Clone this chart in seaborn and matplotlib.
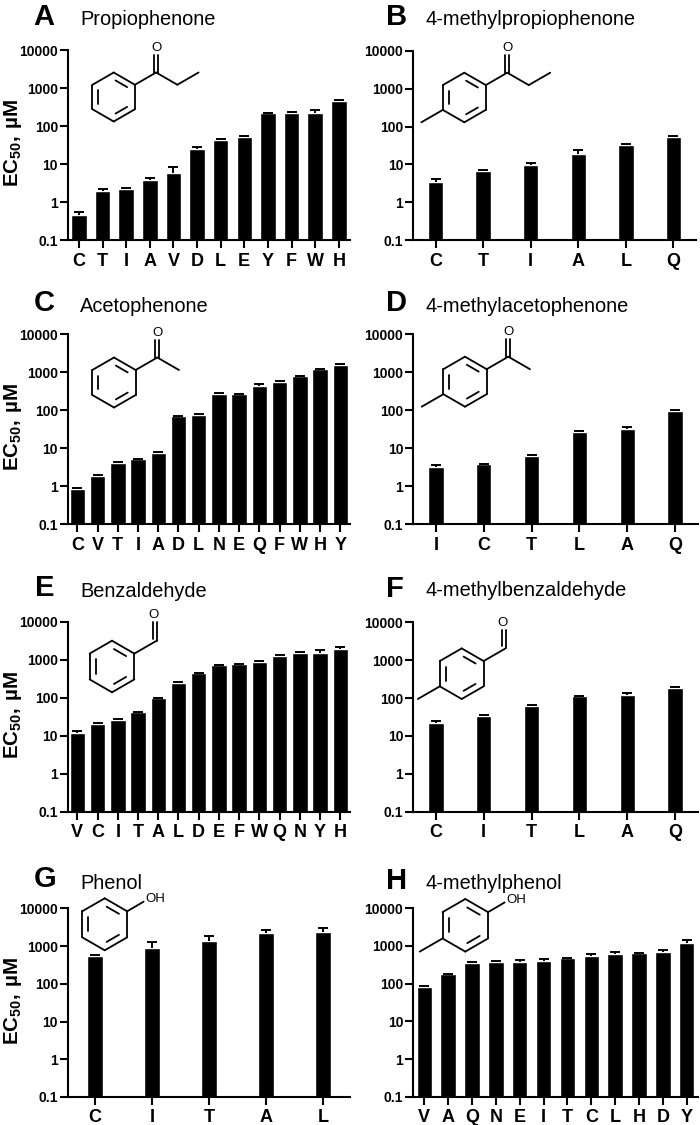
import numpy as np
import pandas as pd
import matplotlib
matplotlib.use('Agg')
import matplotlib.pyplot as plt
import seaborn as sns

# residues, EC50 and top of the error bar for each panel
a_res = ['C', 'T', 'I', 'A', 'V', 'D', 'L', 'E', 'Y', 'F', 'W', 'H']
a_val = [0.46, 1.9, 2.2, 3.8, 5.7, 25, 42, 50, 215, 215, 225, 450]
a_top = [0.54, 2.2, 2.4, 4.3, 8.5, 27.5, 45, 54, 225, 228, 265, 475]

b_res = ['C', 'T', 'I', 'A', 'L', 'Q']
b_val = [3.4, 6.8, 9.6, 18.8, 33, 54]
b_top = [4.2, 7.1, 11, 24.5, 35, 58]

c_res = ['C', 'V', 'T', 'I', 'A', 'D', 'L', 'N', 'E', 'Q', 'F', 'W', 'H', 'Y']
c_val = [0.82, 1.87, 4.1, 5.1, 7.2, 69, 74, 258, 263, 420, 557, 785, 1200, 1560]
c_top = [0.9, 2.0, 4.2, 5.2, 7.8, 71, 80, 277, 268, 485, 565, 800, 1210, 1580]

d_res = ['I', 'C', 'T', 'L', 'A', 'Q']
d_val = [3.2, 3.7, 6.2, 26, 32, 94]
d_top = [3.5, 3.9, 6.7, 28, 36, 100]

e_res = ['V', 'C', 'I', 'T', 'A', 'L', 'D', 'E', 'F', 'W', 'Q', 'N', 'Y', 'H']
e_val = [12, 20, 26, 42, 98, 248, 445, 710, 753, 850, 1270, 1470, 1500, 1950]
e_top = [13.2, 21, 27, 43, 100, 265, 450, 720, 760, 945, 1300, 1630, 1770, 2120]

f_res = ['C', 'I', 'T', 'L', 'A', 'Q']
f_val = [22.4, 34, 63, 110, 123, 190]
f_top = [24.5, 35, 64, 112, 137, 200]

g_res = ['C', 'I', 'T', 'A', 'L']
g_val = [537, 870, 1370, 2200, 2400]
g_top = [570, 1300, 1800, 2650, 2950]

h_res = ['V', 'A', 'Q', 'N', 'E', 'I', 'T', 'C', 'L', 'H', 'D', 'Y']
h_val = [80, 180, 358, 380, 373, 404, 475, 525, 595, 630, 685, 1160]
h_top = [84, 182, 365, 385, 433, 460, 480, 595, 690, 635, 775, 1400]

y_ticks = [0.1, 1, 10, 100, 1000, 10000]
y_labels = ['0.1', '1', '10', '100', '1000', '10000']

sns.set_style('ticks')
plt.rcParams['font.family'] = ['Liberation Sans', 'DejaVu Sans']
plt.rcParams['text.color'] = 'black'
plt.rcParams['axes.labelcolor'] = 'black'
plt.rcParams['mathtext.fontset'] = 'custom'
plt.rcParams['mathtext.bf'] = 'Liberation Sans:bold'
plt.rcParams['mathtext.rm'] = 'Liberation Sans'

W, H = 700, 1125
fig = plt.figure(figsize=(7, 11.25), dpi=100)

# letter, title, data, axes box in pixels (left, right, top, bottom), letter x, title x, letter y, title y,
# then the drawn molecule: ring x, ring y, ring radius, side group, para methyl
panels = [
    ('A', 'Propiophenone', a_res, a_val, a_top, (67.7, 350, 50, 240), 33, 80, 25, 25, (113.7, 97, 24.5, 'propyl', False)),
    ('B', '4-methylpropiophenone', b_res, b_val, b_top, (413, 696, 51, 240), 385.5, 425, 25, 25, (464.3, 97.5, 24.8, 'propyl', True)),
    ('C', 'Acetophenone', c_res, c_val, c_top, (67.7, 350, 334, 524), 34, 80, 310.7, 311.7, (114, 382.5, 25, 'acetyl', False)),
    ('D', '4-methylacetophenone', d_res, d_val, d_top, (413, 698, 334, 524), 385.5, 425, 310.7, 311.7, (465, 381.7, 25, 'acetyl', True)),
    ('E', 'Benzaldehyde', e_res, e_val, e_top, (67.7, 350, 621.7, 811.7), 35, 80, 595.7, 596.7, (112, 666.5, 25.8, 'formyl', False)),
    ('F', '4-methylbenzaldehyde', f_res, f_val, f_top, (413, 698, 622.3, 811.7), 385.5, 425, 596.7, 595.7, (461.7, 673.7, 25.3, 'formyl', True)),
    ('G', 'Phenol', g_res, g_val, g_top, (67.7, 350, 908.3, 1097), 34, 80, 887.3, 889, (104.7, 924.3, 26, 'hydroxyl', False)),
    ('H', '4-methylphenol', h_res, h_val, h_top, (413, 698, 908, 1097), 385.5, 425, 889, 889, (465.3, 925.3, 26.3, 'hydroxyl', True)),
]

# pixel-coordinate layer for letters, titles and molecules
over = fig.add_axes([0, 0, 1, 1], zorder=5)
over.set_xlim(0, W)
over.set_ylim(H, 0)
over.axis('off')


def bond(p, q):
    over.plot([p[0], q[0]], [p[1], q[1]], color='black', lw=1.3, solid_capstyle='round')


def molecule(cx, cy, r, group, methyl):
    angles = np.radians([90, 30, -30, -90, -150, 150])  # top, clockwise
    ring = [(cx + r * np.cos(t), cy - r * np.sin(t)) for t in angles]
    inner = [(cx + 0.72 * r * np.cos(t), cy - 0.72 * r * np.sin(t)) for t in angles]
    for i in range(6):
        bond(ring[i], ring[(i + 1) % 6])
    for i in [0, 2, 4]:
        p, q = np.array(inner[i]), np.array(inner[(i + 1) % 6])
        bond(p + 0.12 * (q - p), q - 0.12 * (q - p))
    dx, dy = 0.866 * r, 0.5 * r
    if methyl:
        bond(ring[4], (ring[4][0] - dx, ring[4][1] + dy))
    vx, vy = ring[1]
    if group == 'hydroxyl':
        bond((vx, vy), (vx + 0.63 * r, vy - 0.37 * r))
        over.text(vx + 0.68 * r, vy - 0.48 * r, 'OH', fontsize=9.5, ha='left', va='center')
        return
    c = (vx + dx, vy - dy)
    bond((vx, vy), c)
    if group == 'formyl':
        bond(c, (c[0], c[1] - 0.72 * r))
        bond((c[0] - 4, c[1] - 2), (c[0] - 4, c[1] - 0.72 * r))
        ox = c[0] - 3
    else:
        bond((c[0] - 2, c[1]), (c[0] - 2, c[1] - 0.72 * r))
        bond((c[0] + 2, c[1]), (c[0] + 2, c[1] - 0.72 * r))
        ox = c[0]
    over.text(ox, c[1] - 1.0 * r, 'O', fontsize=9.5, ha='center', va='center')
    if group in ('propyl', 'acetyl'):
        m = (c[0] + dx, c[1] + dy)
        bond(c, m)
    if group == 'propyl':
        bond(m, (m[0] + dx, m[1] - dy))


for i, (letter, title, res, val, top, box, lx, tx, ly, ty, mol) in enumerate(panels):
    left, right, y0, y1 = box
    ax = fig.add_axes([left / W, 1 - y1 / H, (right - left) / W, (y1 - y0) / H])
    df = pd.DataFrame({'res': res, 'ec50': val})
    n = len(res)
    spacing = (right - left) / (n - 1 + 0.95)
    sns.barplot(data=df, x='res', y='ec50', color='black', saturation=1, width=15.5 / spacing,
                errorbar=None, ax=ax)
    ax.set_yscale('log')
    xs = np.arange(n)
    # upper error only: stem plus a cap on top
    ax.vlines(xs, val, top, color='black', lw=1.4)
    ax.plot(xs, top, ls='none', marker='_', ms=7.4, mew=1.4, color='black')
    ax.set_xlim(-0.475, n - 1 + 0.475)
    ax.set_ylim(0.1, 10000)
    ax.set_yticks(y_ticks)
    ax.set_yticklabels(y_labels, fontsize=10, fontweight='bold')
    ax.minorticks_off()
    ax.set_xticks(xs)
    ax.set_xticklabels(res, fontsize=13, fontweight='bold')
    ax.set_xlabel('')
    ax.set_ylabel('')
    ax.tick_params(axis='both', which='major', length=6, width=1.5, color='black', labelcolor='black')
    ax.tick_params(axis='y', pad=1)
    ax.tick_params(axis='x', pad=3)
    ax.patch.set_alpha(0)
    sns.despine(ax=ax)
    for s in ['left', 'bottom']:
        ax.spines[s].set_linewidth(1.5)
        ax.spines[s].set_color('black')

    over.text(lx, ly, letter, fontsize=21, fontweight='bold', ha='left', va='baseline')
    over.text(tx, ty, title, fontsize=14.4, ha='left', va='baseline')
    if i % 2 == 0:
        over.text(13, (y0 + y1) / 2 - 2, r'$\mathbf{EC_{50},\,µM}$', fontsize=14.8, rotation=90,
                  ha='center', va='center')
    molecule(*mol)

fig.savefig('out.png', dpi=100)
